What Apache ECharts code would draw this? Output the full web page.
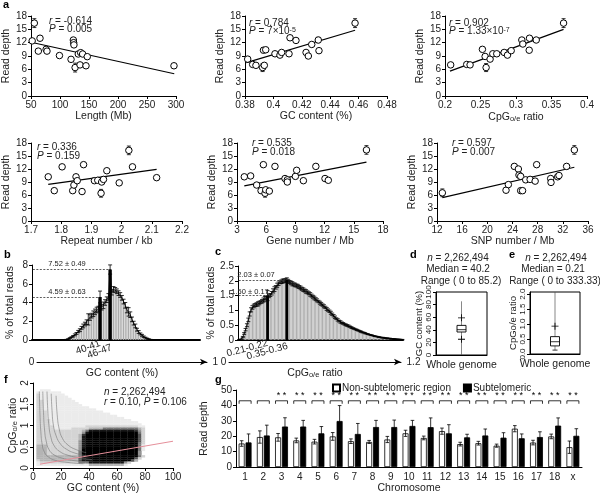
<!DOCTYPE html>
<html><head><meta charset="utf-8">
<script src="https://cdn.jsdelivr.net/npm/echarts@6.0.0/dist/echarts.min.js"></script>
<style>html,body{margin:0;padding:0;background:#fff;}#chart{width:600px;height:495px;}</style>
</head><body><div id="chart"></div>
<script>
// ================= DATA =================
// scatter panels: [x, read depth, error]
const lengthPts = [[55.7,16.4,1.0],[52,12.4,0.3],[65.5,13.0,0.4],[62.6,10.1,0],[76,10.5,0],[77.5,10.1,0.3],[99,9.1,0],[119,8.25,0],[123,12.6,0.5],[123.5,12.0,0],[124,11.5,0],[126,6.4,1.0],[131.5,9.45,0],[135.6,9.75,0],[139,9.45,0],[134.5,7.0,0],[144.8,6.8,0],[147,8.85,0],[296.5,6.8,0]];
const lengthFit = [[50,12.1],[297,5.0]];
const gcPts = [[0.3819,8.3,0.3],[0.3854,7.1,0],[0.3877,6.9,0],[0.3924,6.4,0.9],[0.3936,6.9,0],[0.3930,10.3,0.5],[0.3946,10.4,0],[0.4011,9.5,0],[0.4046,9.2,0],[0.4058,9.8,0],[0.4110,9.5,0],[0.4117,13.1,0.4],[0.4159,12.5,0],[0.4230,9.8,0],[0.4246,9.0,0],[0.4270,11.6,0.4],[0.4316,12.6,0.6],[0.4321,10.2,0],[0.4575,16.4,1.0]];
const gcFit = [[0.381,7.5],[0.4575,14.8]];
const cpgPts = [[0.208,7.0,0],[0.2306,7.1,0],[0.2353,7.0,0],[0.2527,10.5,0.5],[0.2565,8.9,0],[0.2579,6.4,0.9],[0.2635,8.3,0],[0.2673,9.5,0],[0.2729,9.5,0],[0.2833,9.8,0],[0.288,9.2,0],[0.2932,10.2,0],[0.3082,12.6,0.4],[0.3096,11.7,0],[0.3186,10.3,0],[0.319,13.0,0.4],[0.3285,12.6,0],[0.367,16.4,1.0]];
const cpgFit = [[0.207,5.6],[0.367,15.0]];
const repeatPts = [[1.757,10.2,0],[1.777,7.0,0],[1.803,12.5,0],[1.838,7.0,0],[1.842,8.3,0],[1.849,10.2,0.5],[1.853,9.3,0],[1.869,6.8,0],[1.874,13.0,0],[1.910,9.3,0],[1.921,9.4,0],[1.934,9.0,0],[1.932,6.4,0.9],[1.940,9.6,0],[1.951,11.6,0],[1.992,8.8,0],[2.024,16.3,1.0],[2.036,12.5,0.5],[2.116,10.0,0]];
const repeatFit = [[1.757,8.45],[2.116,11.9]];
const genePts = [[3.75,10.2,0],[4.40,10.4,0.5],[5.02,8.3,0],[5.47,7.0,0],[5.71,13.0,0],[5.88,6.4,0.9],[5.95,7.2,0],[6.32,6.9,0],[6.9,12.6,0],[7.93,9.8,0],[8.17,9.5,0],[8.17,9.0,0],[9.0,10.3,0],[9.13,11.7,0],[9.82,9.3,0],[11.1,12.6,0.5],[12.04,9.8,0],[12.38,9.4,0],[16.3,16.4,1.0]];
const geneFit = [[3.75,8.1],[16.3,13.6]];
const snpPts = [[12.85,6.5,0.9],[22.97,7.1,0],[23.34,8.4,0],[24.29,12.6,0.5],[24.93,12.0,0],[25.03,10.6,0],[25.3,7.0,0],[25.6,7.0,0],[25.3,10.3,0],[26.1,9.5,0],[26.8,9.6,0],[27.6,9.2,0],[27.84,13.0,0],[30.07,9.8,0],[30.12,8.9,0],[31.18,10.2,0],[31.39,10.5,0],[32.6,12.6,0],[33.83,16.4,1.0]];
const snpFit = [[12.85,5.4],[33.83,12.4]];

// panel b: GC content histogram (% of total reads), bins of 1% starting at bin 20
const gcHistStart = 20;
const gcHist = [0.05,0.1,0.2,0.3,0.4,0.55,0.7,0.9,1.05,1.3, 1.5,1.7,1.9,2.2,2.4,2.6,2.8,3.0,3.2,3.3, 4.59,3.5,3.7,4.0,4.3,4.6,7.52,5.1,5.4,5.35, 5.2,5.0,4.8,4.5,4.1,3.7,3.2,3.0,2.7,2.2, 1.8,1.5,1.1,0.85,0.65,0.5,0.35,0.25,0.15,0.1, 0.05];
const gcHistErr = [0.02,0.03,0.05,0.05,0.08,0.1,0.1,0.12,0.15,0.15, 0.2,0.2,0.25,0.6,0.3,0.25,0.3,0.3,0.3,0.3, 0.63,0.3,0.35,0.3,0.3,0.35,0.49,0.3,0.3,0.25, 0.25,0.25,0.25,0.25,0.25,0.3,0.3,0.45,0.3,0.25, 0.2,0.2,0.15,0.15,0.1,0.1,0.08,0.05,0.05,0.03, 0.02];
const gcHighlight = ['40-41','46-47'];
const gcNotes = ['4.59 \u00b1 0.63','7.52 \u00b1 0.49'];

// panel c: CpG o/e histogram, bins of 0.01 starting at bin 2
const cpgHistStart = 2;
const cpgHist = [0.03,0.1,0.22,0.35,0.5,0.68,0.88,1.02,1.1,1.15,
 1.18,1.2,1.22,1.25,1.28,1.31,1.35,1.39,1.43,1.50,
 1.49,1.52,1.58,1.66,1.72,1.78,1.85,1.9,1.95,1.97,
 1.99,2.0,2.02,2.03,1.99,1.96,1.93,1.9,1.88,1.86,
 1.84,1.82,1.79,1.76,1.73,1.7,1.67,1.64,1.61,1.58,
 1.54,1.5,1.46,1.42,1.38,1.34,1.3,1.26,1.22,1.18,
 1.14,1.1,1.05,1.01,0.97,0.92,0.87,0.82,0.77,0.72,
 0.68,0.64,0.61,0.58,0.56,0.53,0.51,0.49,0.47,0.45,
 0.42,0.4,0.38,0.36,0.34,0.32,0.3,0.28,0.26,0.25,
 0.23,0.21,0.2,0.18,0.17,0.16,0.14,0.13,0.12,0.11,
 0.1,0.09,0.08,0.08,0.07,0.06,0.06,0.05,0.05,0.04,
 0.04,0.03,0.03,0.02,0.02,0.02,0.01,0.01];
const cpgHistErr = [0.01,0.02,0.03,0.04,0.05,0.06,0.07,0.07,0.06,0.06,
 0.05,0.06,0.07,0.06,0.05,0.06,0.07,0.08,0.06,0.17,
 0.06,0.05,0.06,0.07,0.08,0.06,0.07,0.06,0.05,0.06,
 0.07,0.06,0.05,0.07,0.06,0.05,0.06,0.07,0.05,0.06,
 0.05,0.06,0.05,0.06,0.05,0.06,0.05,0.06,0.05,0.05,
 0.06,0.05,0.05,0.06,0.05,0.05,0.04,0.05,0.05,0.04,
 0.05,0.04,0.05,0.04,0.04,0.05,0.04,0.04,0.04,0.03,
 0.04,0.03,0.04,0.03,0.03,0.03,0.03,0.03,0.03,0.02,
 0.03,0.02,0.02,0.02,0.02,0.02,0.02,0.02,0.02,0.01,
 0.02,0.01,0.01,0.01,0.01,0.01,0.01,0.01,0.01,0.01,
 0.01,0.01,0.01,0.01,0.01,0.01,0.01,0.01,0.01,0.01,
 0.01,0.01,0.01,0.01,0.01,0.01,0.01,0.01];
const cpgHighlight = ['0.21-0.22','0.35-0.36'];
const cpgNotes = ['1.50 \u00b1 0.17','2.03 \u00b1 0.07'];

// panels d, e: box summaries [low, q1, median, q3, high] and '+' marks
const dBox = [0, 36.5, 40.2, 47, 85.2];
const dPlus = [59, 25];
const eBox = [0.13, 0.27, 0.41, 0.58, 333.33];
const ePlus = [0.93];
const boxCategory = ['Whole genome'];

// panel f: density of windows (level 0-9) on a 2.5% GC x 0.05 CpG grid, rows from CpG=2 downward, run-length [level,count]
const fDensity = [
 [],[],[],
 [[0,2],[1,3]],
 [[0,1],[1,7]],
 [[0,1],[2,1],[1,7]],
 [[0,1],[2,1],[1,8]],
 [[0,1],[2,1],[1,9]],
 [[0,1],[2,2],[1,9]],
 [[0,1],[2,2],[1,10]],
 [[0,1],[2,2],[1,11]],
 [[0,1],[2,2],[1,13]],
 [[0,1],[2,2],[1,15]],
 [[0,1],[2,3],[1,16]],
 [[0,1],[2,3],[1,18]],
 [[0,1],[2,3],[1,20]],
 [[0,1],[2,3],[1,22]],
 [[0,1],[2,4],[1,23]],
 [[0,1],[2,4],[1,25]],
 [[0,1],[2,4],[1,26]],
 [[0,1],[2,5],[1,9],[2,15],[1,2]],
 [[0,1],[2,5],[1,5],[2,5],[3,4],[5,10],[3,1],[2,1]],
 [[0,1],[2,13],[3,1],[5,1],[8,13],[7,1],[4,1],[2,1]],
 [[0,1],[2,13],[4,1],[8,1],[9,14],[5,1],[2,1]],
 [[0,1],[2,12],[3,1],[7,1],[9,15],[6,1],[2,1]],
 [[0,1],[2,12],[3,1],[8,1],[9,15],[6,1],[2,1]],
 [[0,1],[2,12],[3,1],[8,1],[9,15],[6,1],[2,1]],
 [[0,1],[2,12],[4,1],[8,1],[9,15],[6,1],[2,1]],
 [[0,1],[2,12],[4,1],[8,1],[9,15],[5,1],[2,1]],
 [[0,1],[3,3],[2,9],[4,1],[8,1],[9,15],[5,1],[1,1]],
 [[0,1],[3,3],[2,9],[4,1],[8,1],[9,15],[5,1],[1,1]],
 [[0,1],[3,3],[2,9],[4,1],[9,16],[5,1],[1,1]],
 [[0,1],[3,3],[2,9],[5,1],[9,16],[4,1]],
 [[0,1],[3,3],[2,9],[5,1],[9,16],[4,1]],
 [[0,1],[3,12],[5,1],[9,16],[5,1],[2,1]],
 [[0,1],[3,12],[6,1],[9,15],[6,1],[2,1]],
 [[0,1],[2,1],[3,11],[6,1],[8,3],[9,11],[6,1],[3,1]],
 [[0,1],[1,1],[2,11],[5,3],[8,10],[4,1],[2,1]],
 [[0,1],[1,15],[3,10],[1,1]],
 []
];
const fCurves = [
 [[4.5,1.8],[5,1.25],[5.6,0.85],[6.6,0.55],[8.2,0.37],[11,0.26],[16,0.18],[25,0.13],[36,0.1]],
 [[7,1.8],[7.5,1.3],[8.2,0.92],[9.5,0.62],[11.5,0.43],[15,0.31],[21,0.23],[30,0.17],[40,0.14]],
 [[10,1.8],[10.5,1.4],[11.3,1.02],[12.8,0.72],[15,0.53],[19,0.39],[25,0.3],[33,0.24],[42,0.2]],
 [[13,1.75],[13.6,1.35],[14.6,1.0],[16.5,0.76],[19.5,0.57],[24,0.44],[30,0.35],[38,0.29]],
 [[16.5,1.7],[17.3,1.25],[18.7,0.92],[21,0.7],[25,0.54],[31,0.43],[38,0.36]]
];
const fFit = [[5,0.09],[100,0.63]];

// panel g
const chromosomes = ['1','2','3','4','5','6','7','8','9','10','11','12','13','14','15','16','17','18','x'];
const nonSubtel = [15.3,19.5,19.3,17.3,16.5,19.9,16.8,16.3,17.9,21.9,18.9,23.3,14.9,15.5,13.9,24.9,15.9,19.9,12.9];
const nonSubtelErr = [1.8,4.0,2.5,1.5,1.5,2.5,1.5,1.0,2.0,2.0,1.2,2.0,1.2,1.2,1.0,2.0,1.5,1.5,4.0];
const subtel = [16.0,20.5,26.3,26.3,21.9,29.9,21.5,26.0,26.0,26.7,25.9,21.9,19.3,20.5,19.1,18.7,19.5,26.9,20.3];
const subtelErr = [5.5,6.7,5.7,4.0,4.4,10.0,6.8,4.3,4.5,3.6,6.0,5.6,2.0,4.2,3.2,2.8,3.4,5.0,4.6];
const significance = ['','','**','**','**','**','**','**','**','**','**','**','**','**','**','**','**','**','**'];

// ================= CHART =================
const FONT = '"Liberation Sans", Arial, Helvetica, sans-serif';
const TXT = '#222';
function merge(a, b) {
  const r = Object.assign({}, a);
  for (const k in b) {
    const v = b[k];
    if (v && typeof v === 'object' && !Array.isArray(v) && r[k] && typeof r[k] === 'object' && !Array.isArray(r[k])) r[k] = merge(r[k], v);
    else r[k] = v;
  }
  return r;
}
const NAME_RICH = {
  sub: {fontSize: 7.5, fontFamily: FONT, color: TXT, verticalAlign: 'bottom', padding: [4,0,0,0]}
};
function axis(o) {
  return merge({
    axisLine: {show: true, lineStyle: {color: '#000', width: 1}},
    axisTick: {show: true, length: 3, lineStyle: {color: '#000', width: 1}},
    axisLabel: {color: TXT, fontSize: 10, fontFamily: FONT, margin: 4},
    splitLine: {show: false},
    nameLocation: 'middle',
    nameTextStyle: {color: TXT, fontSize: 10.5, fontFamily: FONT, rich: NAME_RICH}
  }, o);
}
function errRender(params, api) {
  const x = api.value(0), y = api.value(1), e = api.value(2);
  if (!(e > 0)) return;
  const top = api.coord([x, y + e]), bot = api.coord([x, y - e]);
  const hw = 2, st = {stroke: '#000', lineWidth: 0.8};
  return {type: 'group', children: [
    {type: 'line', shape: {x1: top[0], y1: top[1], x2: bot[0], y2: bot[1]}, style: st},
    {type: 'line', shape: {x1: top[0]-hw, y1: top[1], x2: top[0]+hw, y2: top[1]}, style: st},
    {type: 'line', shape: {x1: bot[0]-hw, y1: bot[1], x2: bot[0]+hw, y2: bot[1]}, style: st}
  ]};
}

const grids = [], xAxes = [], yAxes = [], series = [];
function addGrid(g, xa, ya) {
  const i = grids.length;
  grids.push(g);
  xAxes.push(merge(xa, {gridIndex: i}));
  yAxes.push(merge(ya, {gridIndex: i}));
  return i;
}

// ---- scatter panels ----
const panels = [
  {pts: lengthPts, fit: lengthFit, x: [50,300,50], name: 'Length (Mb)', g: {left: 31, top: 16, width: 145, height: 80}, yGap: 15},
  {pts: gcPts, fit: gcFit, x: [0.38,0.48,0.02], name: 'GC content (%)', g: {left: 245, top: 16, width: 142, height: 80}, yGap: 17},
  {pts: cpgPts, fit: cpgFit, x: [0.2,0.4,0.05], name: 'CpG{sub|o/e} ratio', g: {left: 445, top: 16, width: 142, height: 80}, yGap: 18},
  {pts: repeatPts, fit: repeatFit, x: [1.7,2.2,0.1], name: 'Repeat number / kb', g: {left: 31, top: 143, width: 151, height: 78}, yGap: 16},
  {pts: genePts, fit: geneFit, x: [3,18,3], name: 'Gene number / Mb', g: {left: 237, top: 143, width: 146, height: 78}, yGap: 15},
  {pts: snpPts, fit: snpFit, x: [12,36,4], name: 'SNP number / Mb', g: {left: 437, top: 143, width: 151, height: 78}, yGap: 15}
];
panels.forEach(p => {
  const gi = addGrid(p.g,
    axis({type: 'value', min: p.x[0], max: p.x[1], interval: p.x[2], name: p.name, nameGap: 15}),
    axis({type: 'value', min: 0, max: 18, interval: 3, name: 'Read depth', nameGap: p.yGap}));
  series.push({type: 'custom', xAxisIndex: gi, yAxisIndex: gi, renderItem: errRender, data: p.pts, encode: {x: 0, y: 1}, z: 2, silent: true});
  series.push({type: 'line', xAxisIndex: gi, yAxisIndex: gi, data: p.fit, symbol: 'none', lineStyle: {color: '#000', width: 1.2}, z: 3, silent: true});
  series.push({type: 'scatter', xAxisIndex: gi, yAxisIndex: gi, data: p.pts.map(d => [d[0], d[1]]), symbol: 'circle', symbolSize: 6.5,
    itemStyle: {color: '#fff', borderColor: '#000', borderWidth: 1, opacity: 1}, z: 4, silent: true});
});

// ---- histograms b and c ----
const noteTexts = [];
function histPanel(opt) {
  const cats = [];
  for (let i = 0; i < opt.nBins; i++) cats.push(opt.binName(i));
  const full = cats.map(() => 0);
  const err = [];
  opt.values.forEach((v, k) => { full[opt.start + k] = v; err.push([opt.start + k, v, opt.err[k]]); });
  const gi = addGrid(opt.g,
    axis({type: 'category', data: cats, axisTick: {show: false}, axisLine: {lineStyle: {width: 2}},
      axisLabel: {interval: 0, rotate: opt.rotate, fontSize: 10, margin: 3,
        formatter: (v) => v === opt.hl[0] ? v : (v === opt.hl[1] ? '{lo|' + v + '}' : ''),
        rich: {lo: {fontSize: 10, fontFamily: FONT, color: TXT, padding: [opt.loPad,0,0,0]}}}}),
    axis({type: 'value', min: 0, max: opt.ymax, interval: opt.yint, name: '% of total reads', nameGap: opt.yGap}));
  series.push({type: 'bar', xAxisIndex: gi, yAxisIndex: gi, data: full, barCategoryGap: '30%',
    itemStyle: {color: '#ababab'}, silent: true, z: 2});
  series.push({type: 'line', xAxisIndex: gi, yAxisIndex: gi, data: full.map((v, i) => (i >= opt.start - 1 && i <= opt.start + opt.values.length) ? v : '-'),
    symbol: 'none', lineStyle: {color: '#000', width: 0.8}, z: 3, silent: true});
  series.push({type: 'custom', xAxisIndex: gi, yAxisIndex: gi, renderItem: errRender, data: err, encode: {x: 0, y: 1}, z: 4, silent: true});
  series.push({type: 'custom', xAxisIndex: gi, yAxisIndex: gi, z: 5, silent: true, encode: {x: 0, y: 1},
    data: opt.hl.map(h => [cats.indexOf(h), full[cats.indexOf(h)]]),
    renderItem: (params, api) => {
      const i = api.value(0), v = api.value(1);
      const p0 = api.coord([i, 0]), p1 = api.coord([i, v]);
      const w = opt.hlWidth;
      return {type: 'rect', shape: {x: p0[0] - w/2, y: p1[1], width: w, height: p0[1] - p1[1]}, style: {fill: '#000'}};
    },
    markLine: {silent: true, symbol: ['none','none'], animation: false,
      lineStyle: {color: '#333', width: 0.8, type: [2,1.5]},
      label: {show: false},
      data: opt.hl.map((h, k) => [{coord: [cats[0], full[cats.indexOf(h)]]}, {coord: [h, full[cats.indexOf(h)]]}])}});
  opt.notePos.forEach((p, k) => noteTexts.push([p[0], p[1], opt.notes[k]]));
  // arrow axis
  addGrid(opt.ag,
    axis({type: 'value', min: 0, max: opt.amax, interval: opt.amax, axisTick: {show: false},
      axisLine: {symbol: ['none','arrow'], symbolSize: [5,7]},
      axisLabel: {verticalAlign: 'middle', margin: 0, alignMinLabel: 'right', alignMaxLabel: 'left', fontSize: 10,
        showMinLabel: true, showMaxLabel: true,
        formatter: v => v === 0 ? '0 ' : '  ' + v},
      name: opt.aname, nameGap: 3}),
    {type: 'value', show: false});
}
histPanel({nBins: 100, binName: i => i + '-' + (i + 1), start: gcHistStart, values: gcHist, err: gcHistErr, hl: gcHighlight, notes: gcNotes,
  notePos: [[67, 292], [67, 264]],
  g: {left: 32, top: 265, width: 168, height: 75}, ymax: 8, yint: 2, yGap: 16, rotate: 20, loPad: 9, hlWidth: 3.4,
  ag: {left: 37, top: 361, width: 170, height: 1}, amax: 1, aname: 'GC content (%)'});
histPanel({nBins: 120, binName: i => (i / 100).toFixed(2) + '-' + ((i + 1) / 100).toFixed(2), start: cpgHistStart, values: cpgHist, err: cpgHistErr, hl: cpgHighlight, notes: cpgNotes,
  notePos: [[250, 292], [256, 275]],
  g: {left: 238, top: 266, width: 165, height: 74}, ymax: 2.5, yint: 0.5, yGap: 18, rotate: 15, loPad: 6, hlWidth: 2.8,
  ag: {left: 229, top: 361, width: 172, height: 1}, amax: 1.2, aname: 'CpG{sub|o/e} ratio'});

// ---- box panels d, e ----
function boxPanel(g, ymax, yint, yname, yGap, box, plus, fmt, cap) {
  const gi = addGrid(merge(g, {show: true, borderColor: '#000', borderWidth: 1}),
    axis({type: 'category', data: boxCategory, axisTick: {show: false}, axisLabel: {fontSize: 10.5, margin: 5}}),
    axis({type: 'value', min: 0, max: ymax, interval: yint, name: yname, nameGap: yGap,
      nameTextStyle: {fontSize: 9.5},
      axisLabel: {show: true, rotate: 90, fontSize: 8, margin: 3, color: TXT, hideOverlap: false, formatter: fmt || '{value}'}}));
  series.push({type: 'custom', xAxisIndex: gi, yAxisIndex: gi, clip: true, silent: true, z: 3, encode: {x: 0, y: 1},
    data: [[0].concat(box)],
    renderItem: (params, api) => {
      const c = api.coord([0, api.value(3)])[0];
      const y = k => api.coord([0, api.value(k)])[1];
      const hw = 4.5, st = {stroke: '#000', lineWidth: 0.8};
      const ch = [
        {type: 'line', shape: {x1: c, y1: y(1), x2: c, y2: y(5)}, style: {stroke: '#555', lineWidth: 0.7}},
        {type: 'rect', shape: {x: c - hw, y: y(4), width: 2*hw, height: y(2) - y(4)}, style: {fill: '#fff', stroke: '#000', lineWidth: 0.9}},
        {type: 'line', shape: {x1: c - hw, y1: y(3), x2: c + hw, y2: y(3)}, style: st}
      ];
      if (cap) ch.push({type: 'line', shape: {x1: c - 2.5, y1: y(1), x2: c + 2.5, y2: y(1)}, style: st});
      return {type: 'group', children: ch};
    }});
  series.push({type: 'scatter', xAxisIndex: gi, yAxisIndex: gi, data: plus.map(v => [0, v]), silent: true, z: 4,
    symbol: 'path://M4.4,0H5.6V4.4H10V5.6H5.6V10H4.4V5.6H0V4.4H4.4Z', symbolSize: 7, itemStyle: {color: '#000', opacity: 1}});
}
boxPanel({left: 436, top: 292, width: 51, height: 63}, 100, 20, 'GC content (%)', 12, dBox, dPlus, null, false);
boxPanel({left: 530, top: 292, width: 50, height: 62}, 2.07, 0.5, 'CpGo/e ratio', 11, eBox, ePlus, v => v.toFixed(1), true);

// ---- panel f ----
const fShades = ['#fff','#ebebeb','#d4d4d4','#b4b4b4','#949494','#777777','#555555','#333333','#161616','#000000'];
const fCells = [];
fDensity.forEach((row, r) => {
  let c = 0;
  row.forEach(([lv, n]) => { for (let k = 0; k < n; k++, c++) if (lv > 0) fCells.push([2.5 * c + 1.25, 2 - 0.05 * r - 0.025, lv]); });
});
const fi = addGrid({left: 33, top: 383, width: 140, height: 85},
  axis({type: 'value', min: 0, max: 100, interval: 20, name: 'GC content (%)', nameGap: 14}),
  axis({type: 'value', min: 0, max: 2, interval: 0.5, name: 'CpG{sub|o/e} ratio', nameGap: 10,
    axisLabel: {rotate: 90, margin: 3}}));
series.push({type: 'scatter', xAxisIndex: fi, yAxisIndex: fi, data: fCells, symbol: 'rect', symbolSize: [3.8, 2.4], silent: true, z: 2,
  itemStyle: {color: p => fShades[p.value[2]], opacity: 1}, large: false});
fCurves.forEach(cv => series.push({type: 'line', xAxisIndex: fi, yAxisIndex: fi, data: cv, smooth: true, symbol: 'none',
  lineStyle: {color: '#777', width: 0.6}, z: 3, silent: true}));
series.push({type: 'line', xAxisIndex: fi, yAxisIndex: fi, data: fFit, symbol: 'none', lineStyle: {color: '#e58f9a', width: 1}, z: 4, silent: true});

// ---- panel g ----
const gi2 = addGrid({left: 236, top: 390, width: 346, height: 83},
  axis({type: 'category', data: chromosomes, axisTick: {show: false}, axisLabel: {margin: 5}, name: 'Chromosome', nameGap: 13}),
  axis({type: 'value', min: 0, max: 50, interval: 10, name: 'Read depth', nameGap: 16}));
const BW = 6;
series.push({type: 'bar', name: 'Non-subtelomeric region', xAxisIndex: gi2, yAxisIndex: gi2, data: nonSubtel, barWidth: BW, barGap: '15%',
  itemStyle: {color: '#fff', borderColor: '#000', borderWidth: 0.8}, silent: true, z: 2});
series.push({type: 'bar', name: 'Subtelomeric', xAxisIndex: gi2, yAxisIndex: gi2, data: subtel, barWidth: BW, barGap: '15%',
  itemStyle: {color: '#000', borderColor: '#000', borderWidth: 0.8}, silent: true, z: 2});
function groupErr(off) {
  return (params, api) => {
    const i = api.value(0), v = api.value(1), e = api.value(2);
    const top = api.coord([i, v + e]), bot = api.coord([i, Math.max(0, v - e)]);
    const x = top[0] + off, hw = 1.8, st = {stroke: '#000', lineWidth: 0.8};
    return {type: 'group', children: [
      {type: 'line', shape: {x1: x, y1: top[1], x2: x, y2: bot[1]}, style: st},
      {type: 'line', shape: {x1: x - hw, y1: top[1], x2: x + hw, y2: top[1]}, style: st},
      {type: 'line', shape: {x1: x - hw, y1: bot[1], x2: x + hw, y2: bot[1]}, style: st}
    ]};
  };
}
const half = BW / 2 + BW * 0.075;
series.push({type: 'custom', xAxisIndex: gi2, yAxisIndex: gi2, data: nonSubtel.map((v, i) => [i, v, nonSubtelErr[i]]), encode: {x: 0, y: 1},
  renderItem: groupErr(-half), z: 3, silent: true});
series.push({type: 'custom', xAxisIndex: gi2, yAxisIndex: gi2, data: subtel.map((v, i) => [i, v, subtelErr[i]]), encode: {x: 0, y: 1},
  renderItem: groupErr(half), z: 3, silent: true});
series.push({type: 'custom', xAxisIndex: gi2, yAxisIndex: gi2, data: significance.map((s, i) => [i, 43, s]), encode: {x: 0, y: 1}, z: 3, silent: true,
  renderItem: (params, api) => {
    const i = api.value(0);
    const p = api.coord([i, 43]);
    const w = 6, st = {stroke: '#000', lineWidth: 0.8};
    const s = significance[i];
    const ch = [
      {type: 'line', shape: {x1: p[0] - w, y1: p[1], x2: p[0] + w, y2: p[1]}, style: st},
      {type: 'line', shape: {x1: p[0] - w, y1: p[1], x2: p[0] - w, y2: p[1] + 3}, style: st},
      {type: 'line', shape: {x1: p[0] + w, y1: p[1], x2: p[0] + w, y2: p[1] + 3}, style: st}
    ];
    if (s) ch.push({type: 'text', style: {text: '* *', x: p[0], y: p[1] - 5, fill: '#000', fontSize: 9, fontFamily: FONT, align: 'center', verticalAlign: 'middle', textAlign: 'center', textVerticalAlign: 'middle'}});
    return {type: 'group', children: ch};
  }});

// ---- texts ----
const GR = {
  i: {fontStyle: 'italic', fontSize: 10, fontFamily: FONT, fill: TXT},
  sup: {fontSize: 7, fontFamily: FONT, fill: TXT, verticalAlign: 'top'}
};
function T(x, y, text, extra) {
  return {type: 'text', x: x, y: y, silent: true, z: 100,
    style: Object.assign({text: text, fill: TXT, fontSize: 10, fontFamily: FONT, align: 'left', verticalAlign: 'middle', textAlign: 'left', textVerticalAlign: 'middle', rich: GR}, extra || {})};
}
function L(x, y, t) { return T(x, y, t, {fontSize: 11, fontWeight: 'bold', fill: '#000'}); }
const C = {align: 'center', textAlign: 'center'};
const graphics = [
  L(3, 5, 'a'), L(4, 255, 'b'), L(215, 252, 'c'), L(410, 255, 'd'), L(509, 255, 'e'), L(4, 380, 'f'), L(215, 380, 'g'),
  T(49, 21, '{i|r} = -0.614'), T(49, 29.5, '{i|P} = 0.005'),
  T(249, 23, '{i|r} = 0.784'), T(249, 31.5, '{i|P} = 7\u00d710{sup|-5}'),
  T(449, 23, '{i|r} = 0.902'), T(449, 31.5, '{i|P} = 1.33\u00d710{sup|-7}'),
  T(37, 147, '{i|r} = 0.336'), T(37, 156, '{i|P} = 0.159'),
  T(252, 143, '{i|r} = 0.535'), T(252, 152.5, '{i|P} = 0.018'),
  T(452, 143, '{i|r} = 0.597'), T(452, 152.5, '{i|P} = 0.007'),
  T(458, 258, '{i|n} = 2,262,494', C), T(458, 269.5, 'Median = 40.2', C), T(461, 281, 'Range ( 0 to 85.2)', C),
  T(556, 258, '{i|n} = 2,262,494', C), T(553, 269.5, 'Median = 0.21', C), T(555, 281, 'Range ( 0 to 333.33)', C),
  T(104, 392, '{i|n} = 2,262,494'), T(104, 402, '{i|r} = 0.10, {i|P} = 0.106')
].concat(noteTexts.map(n => T(n[0], n[1], n[2], {align: 'center', textAlign: 'center', fontSize: 7.5})));

const chart = echarts.init(document.getElementById('chart'));
chart.setOption({
  animation: false,
  backgroundColor: '#fff',
  textStyle: {fontFamily: FONT},
  grid: grids, xAxis: xAxes, yAxis: yAxes, series: series,
  legend: {left: 327, top: 378, itemWidth: 7, itemHeight: 7, itemGap: 12, icon: 'rect', selectedMode: false,
    textStyle: {fontSize: 10, fontFamily: FONT, color: TXT, padding: [0,0,0,-3]},
    data: ['Non-subtelomeric region', 'Subtelomeric']},
  graphic: graphics
});
</script></body></html>
